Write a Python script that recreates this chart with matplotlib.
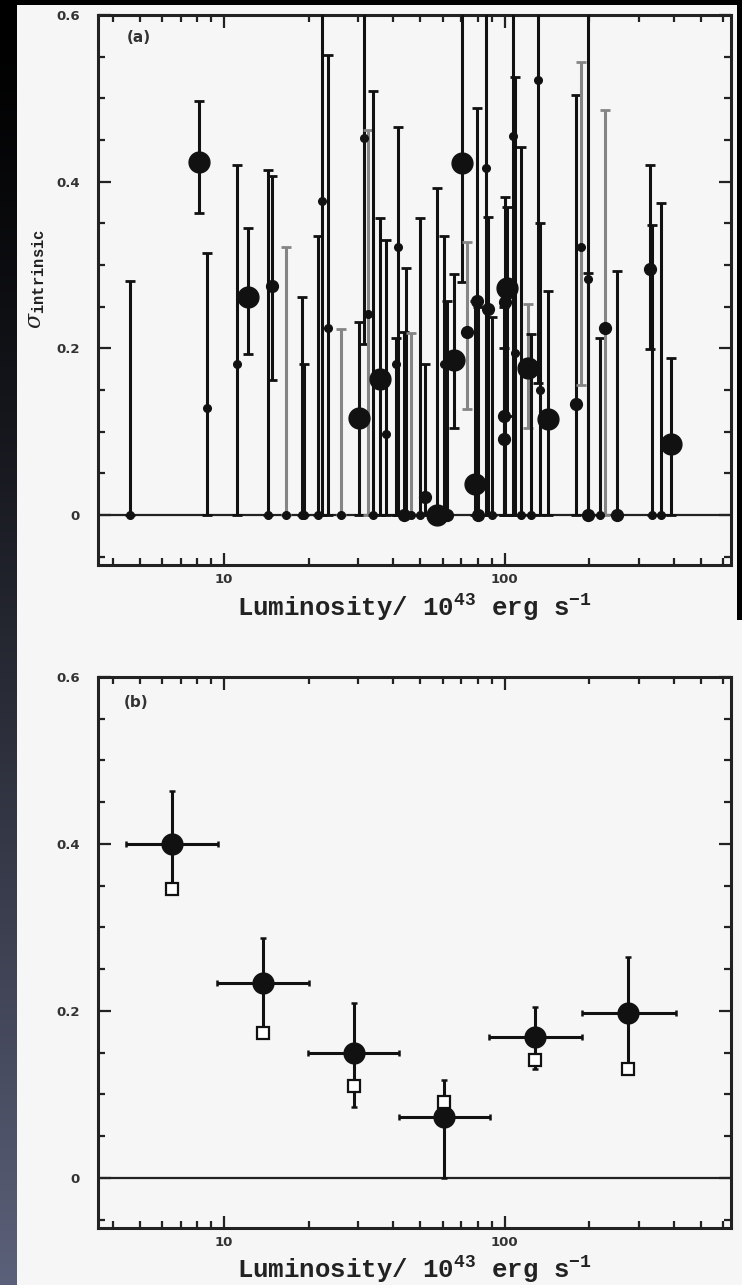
import numpy as np
import matplotlib
matplotlib.use("Agg")
import matplotlib.pyplot as plt
from matplotlib.ticker import LogLocator, MultipleLocator, FixedLocator, FixedFormatter, NullFormatter

plt.rcParams['mathtext.fontset'] = 'custom'
plt.rcParams['mathtext.rm'] = 'Liberation Mono:bold'
plt.rcParams['mathtext.it'] = 'DejaVu Serif:italic'

# ---- panel (a): individual sources ----
# luminosity (1e43 erg/s), sigma_intrinsic, lower / upper end of the error bar
lum_a = [4.63, 8.15, 8.67, 11.1, 12.2, 14.3, 14.8, 16.6, 18.9, 19.3,
         21.6, 22.3, 23.5, 26.1, 30.2, 31.6, 32.6, 34.0, 35.9, 37.6,
         40.8, 41.7, 43.7, 44.6, 46.5, 49.7, 51.9, 57.5, 60.9, 62.0,
         66.1, 70.1, 73.6, 78.0, 79.5, 80.5, 85.9, 87.0, 89.7, 99.0,
         99.5, 100.0, 102.0, 107.0, 109.0, 114.6, 121.0, 124.0, 131.0, 134.0,
         142.6, 180.0, 187.0, 198.0, 198.5, 219.0, 227.0, 251.0, 328.0, 334.0,
         361.0, 391.0]
sig_a = [0.0, 0.423, 0.128, 0.181, 0.261, 0.0, 0.275, 0.0, 0.0, 0.0,
         0.0, 0.377, 0.224, 0.0, 0.116, 0.452, 0.241, 0.0, 0.163, 0.097,
         0.181, 0.321, 0.0, 0.0, 0.0, 0.0, 0.022, 0.0, 0.181, 0.0,
         0.186, 0.422, 0.220, 0.037, 0.257, 0.0, 0.416, 0.247, 0.0, 0.119,
         0.091, 0.256, 0.272, 0.455, 0.194, 0.0, 0.177, 0.0, 0.522, 0.150,
         0.115, 0.133, 0.322, 0.283, 0.0, 0.0, 0.224, 0.0, 0.295, 0.0,
         0.0, 0.085]
lo_a = [0.0, 0.362, 0.0, 0.0, 0.193, 0.0, 0.162, 0.0, 0.0, 0.0,
        0.0, 0.0, 0.0, 0.0, 0.0, 0.205, 0.0, 0.0, 0.0, 0.0,
        0.0, 0.0, 0.0, 0.0, 0.0, 0.0, 0.0, 0.0, 0.0, 0.0,
        0.105, 0.279, 0.127, 0.0, 0.0, 0.0, 0.0, 0.0, 0.0, 0.0,
        0.0, 0.0, 0.119, 0.0, 0.0, 0.0, 0.105, 0.0, 0.158, 0.0,
        0.0, 0.0, 0.156, 0.0, 0.0, 0.0, 0.0, 0.0, 0.199, 0.0,
        0.0, 0.0]
hi_a = [0.281, 0.497, 0.314, 0.420, 0.344, 0.414, 0.407, 0.321, 0.261, 0.181,
        0.335, 0.75, 0.552, 0.223, 0.232, 0.75, 0.462, 0.509, 0.356, 0.330,
        0.212, 0.465, 0.220, 0.296, 0.219, 0.356, 0.181, 0.392, 0.335, 0.257,
        0.289, 0.75, 0.328, 0.257, 0.488, 0.250, 0.75, 0.357, 0.238, 0.250,
        0.200, 0.382, 0.370, 0.75, 0.526, 0.442, 0.253, 0.217, 0.75, 0.350,
        0.269, 0.504, 0.544, 0.75, 0.290, 0.213, 0.486, 0.293, 0.420, 0.348,
        0.374, 0.188]
# dot size class: L = large, m = medium, s = small
dot_a = ['s', 'L', 's', 's', 'L', 's', 'm', 's', 's', 's',
         's', 's', 's', 's', 'L', 's', 's', 's', 'L', 's',
         's', 's', 'm', 's', 's', 's', 'm', 'L', 's', 'm',
         'L', 'L', 'm', 'L', 'm', 'm', 's', 'm', 's', 'm',
         'm', 'm', 'L', 's', 's', 's', 'L', 's', 's', 's',
         'L', 'm', 's', 's', 'm', 's', 'm', 'm', 'm', 's',
         's', 'L']
grey_a = [7, 13, 16, 24, 32, 46, 52, 56]

# ---- panel (b): binned values ----
lum_b = [6.5, 13.7, 29.0, 60.8, 128.6, 274.0]
lum_b_lo = [4.45, 9.4, 19.9, 42.0, 88.0, 188.0]
lum_b_hi = [9.5, 20.0, 42.0, 88.3, 188.0, 406.0]
sig_b = [0.400, 0.233, 0.150, 0.073, 0.169, 0.197]
sig_b_lo = [0.346, 0.174, 0.085, 0.0, 0.130, 0.130]
sig_b_hi = [0.463, 0.287, 0.209, 0.117, 0.205, 0.265]
sig_sq = [0.346, 0.174, 0.110, 0.091, 0.141, 0.130]

dot_ms = {'L': 15, 'm': 8.5, 's': 5.5}
paper = '#f6f6f6'

fig = plt.figure(figsize=(7.42, 12.85), dpi=100, facecolor=paper)

# dark slide border: gradient on the left, black band on top and right
strip = fig.add_axes([0, 0, 17 / 742, 1])
grad = np.linspace(0, 1, 256)[:, None]
cols = np.empty((256, 1, 3))
for k, (a, b) in enumerate(zip((0.0, 0.0, 0.0), (0.36, 0.38, 0.48))):
    cols[:, 0, k] = a + (b - a) * grad[:, 0] ** 1.3
strip.imshow(cols, aspect='auto', extent=[0, 1, 1, 0])
strip.axis('off')
top = fig.add_axes([0, 1 - 5 / 1285, 1, 5 / 1285])
top.add_patch(plt.Rectangle((0, 0), 1, 1, color='black'))
top.axis('off')
right = fig.add_axes([737 / 742, 1 - 620 / 1285, 5 / 742, 620 / 1285])
right.add_patch(plt.Rectangle((0, 0), 1, 1, color='black'))
right.axis('off')

tick_font = dict(family='DejaVu Sans', weight='bold', size=9.5)


def style_axis(ax, label_y):
    ax.set_facecolor(paper)
    ax.set_xscale('log')
    ax.set_xlim(3.55, 640)
    ax.set_ylim(-0.06, 0.6)
    ax.axhline(0, color='#222222', lw=1.6, zorder=1)
    ax.xaxis.set_major_locator(FixedLocator([10, 100]))
    ax.xaxis.set_major_formatter(FixedFormatter(['10', '100']))
    ax.xaxis.set_minor_locator(LogLocator(base=10, subs=np.arange(2, 10)))
    ax.xaxis.set_minor_formatter(NullFormatter())
    ax.yaxis.set_major_locator(FixedLocator([0, 0.2, 0.4, 0.6]))
    ax.yaxis.set_major_formatter(FixedFormatter(['0', '0.2', '0.4', '0.6']))
    ax.yaxis.set_minor_locator(MultipleLocator(0.05))
    ax.tick_params(which='both', direction='in', top=True, right=True,
                   color='#222222', width=1.6)
    ax.tick_params(which='major', length=9)
    ax.tick_params(which='minor', length=5)
    ax.tick_params(axis='y', pad=13)
    ax.tick_params(axis='x', pad=6)
    for lab in ax.get_xticklabels() + ax.get_yticklabels():
        lab.set(**tick_font, color='#333333')
    for s in ax.spines.values():
        s.set_linewidth(2.2)
        s.set_color('#222222')
    ax.set_xlabel(r'Luminosity/ 10$^{43}$ erg s$^{-1}$', family='Liberation Mono',
                  weight='bold', size=18.5, color='#222222')
    ax.xaxis.set_label_coords(0.5, label_y)


# panel (a)
ax1 = fig.add_axes([98 / 742, 1 - 565 / 1285, 633 / 742, 550 / 1285])
style_axis(ax1, -0.05)
for i in range(len(lum_a)):
    c = '#858585' if i in grey_a else '#111111'
    ax1.errorbar([lum_a[i]], [sig_a[i]],
                 yerr=[[sig_a[i] - lo_a[i]], [hi_a[i] - sig_a[i]]],
                 fmt='o', ms=dot_ms[dot_a[i]], mfc='#111111', mec='#111111',
                 ecolor=c, elinewidth=2.2, capsize=3.5, capthick=2.0, zorder=3)
ax1.set_ylabel(r'$\sigma_{\rm intrinsic}$', size=16, color='#222222')
ax1.yaxis.set_label_coords(-0.08, 0.52)
ax1.text(0.046, 0.972, '(a)', transform=ax1.transAxes, ha='left', va='top',
         family='DejaVu Sans', weight='bold', size=11, color='#333333')

# panel (b)
ax2 = fig.add_axes([98 / 742, 1 - 1228 / 1285, 633 / 742, 551 / 1285])
style_axis(ax2, -0.048)
xerr = [np.array(lum_b) - np.array(lum_b_lo), np.array(lum_b_hi) - np.array(lum_b)]
yerr = [np.array(sig_b) - np.array(sig_b_lo), np.array(sig_b_hi) - np.array(sig_b)]
ax2.errorbar(lum_b, sig_b, xerr=xerr, yerr=yerr, fmt='o', ms=15,
             mfc='#111111', mec='#111111', ecolor='#111111',
             elinewidth=2.2, capsize=2.5, capthick=1.8, zorder=3)
ax2.plot(lum_b, sig_sq, 's', ms=9, mfc='white', mec='#111111', mew=1.6, zorder=4)
ax2.text(0.04, 0.967, '(b)', transform=ax2.transAxes, ha='left', va='top',
         family='DejaVu Sans', weight='bold', size=11, color='#333333')

fig.savefig('out.png', dpi=100, facecolor=paper)
